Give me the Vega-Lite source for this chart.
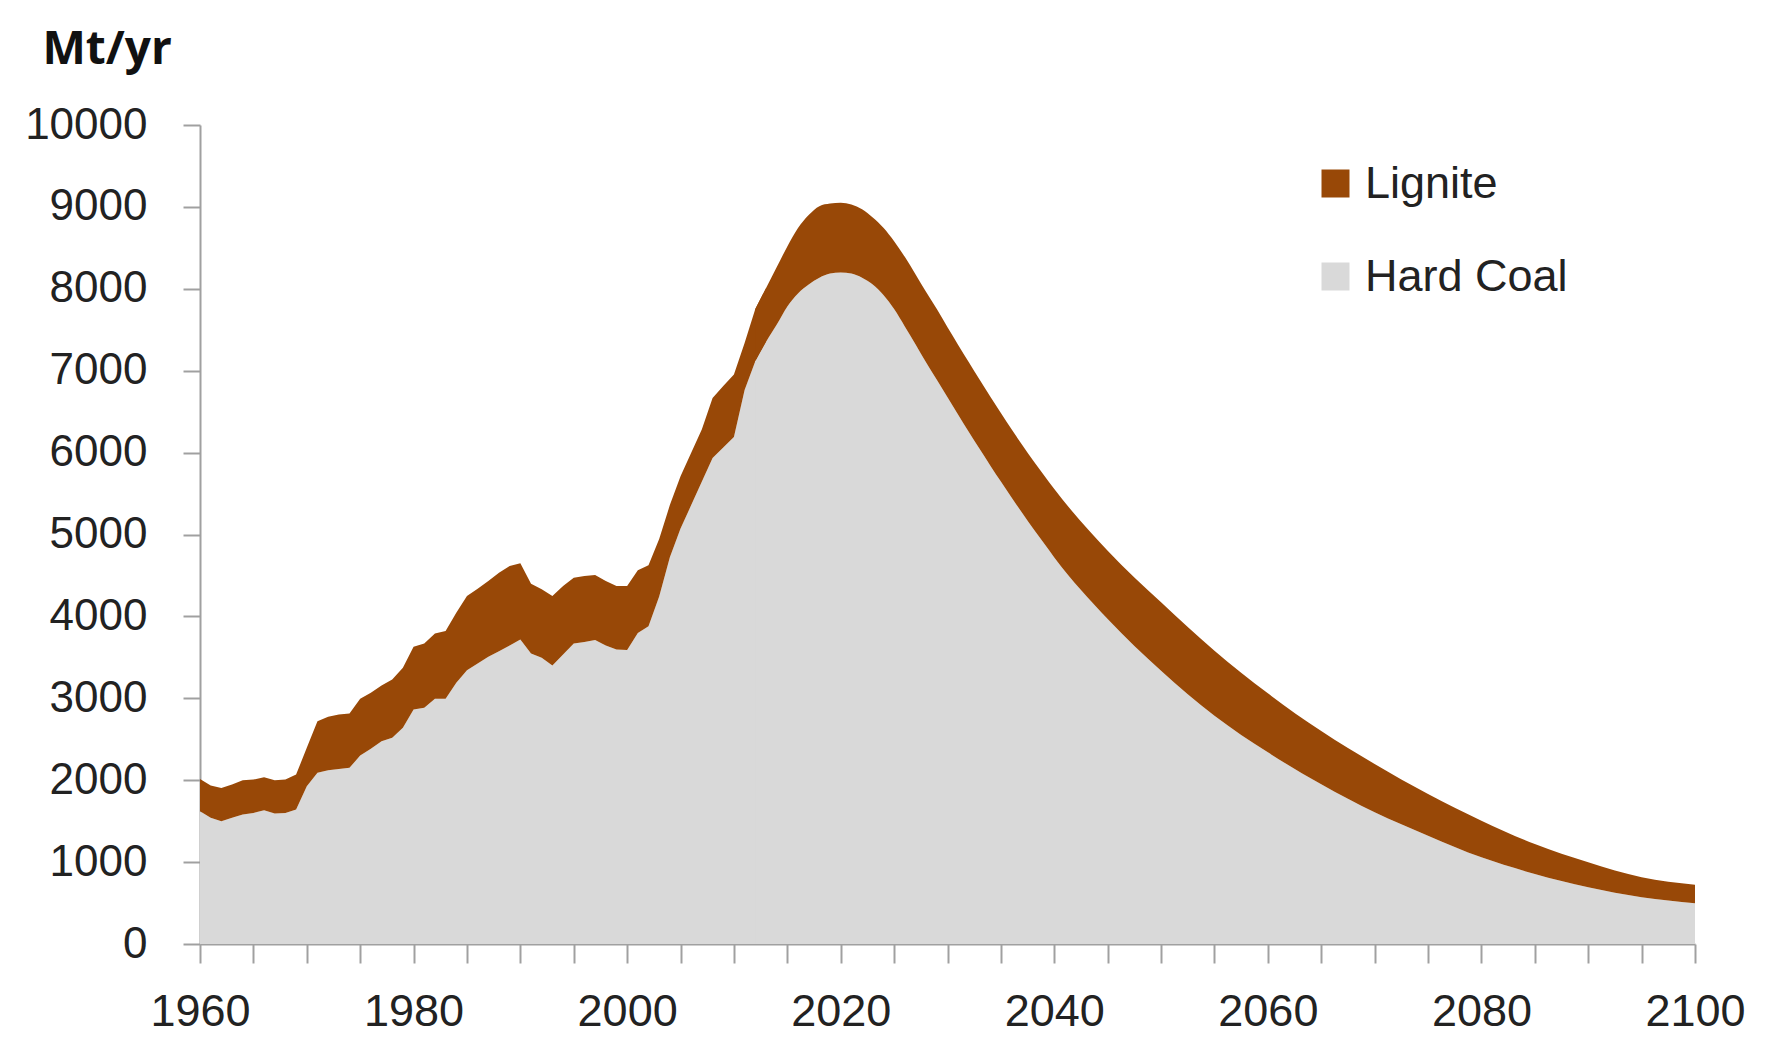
{
  "$schema": "https://vega.github.io/schema/vega-lite/v6.json",
  "width": 1495,
  "height": 819,
  "autosize": {"type": "none"},
  "padding": {"left": 200, "top": 125, "right": 74, "bottom": 101},
  "background": "white",
  "config": {
    "font": "Liberation Sans",
    "view": {"stroke": null}
  },
  "data": {
    "values": [
      {"year": 1960, "Hard Coal": 1621, "Lignite": 395},
      {"year": 1961, "Hard Coal": 1540, "Lignite": 395},
      {"year": 1962, "Hard Coal": 1499, "Lignite": 407},
      {"year": 1963, "Hard Coal": 1540, "Lignite": 407},
      {"year": 1964, "Hard Coal": 1580, "Lignite": 420},
      {"year": 1965, "Hard Coal": 1601, "Lignite": 407},
      {"year": 1966, "Hard Coal": 1633, "Lignite": 404},
      {"year": 1967, "Hard Coal": 1593, "Lignite": 407},
      {"year": 1968, "Hard Coal": 1601, "Lignite": 407},
      {"year": 1969, "Hard Coal": 1642, "Lignite": 427},
      {"year": 1970, "Hard Coal": 1927, "Lignite": 468},
      {"year": 1971, "Hard Coal": 2090, "Lignite": 631},
      {"year": 1972, "Hard Coal": 2122, "Lignite": 652},
      {"year": 1973, "Hard Coal": 2138, "Lignite": 664},
      {"year": 1974, "Hard Coal": 2151, "Lignite": 664},
      {"year": 1975, "Hard Coal": 2301, "Lignite": 693},
      {"year": 1976, "Hard Coal": 2383, "Lignite": 684},
      {"year": 1977, "Hard Coal": 2477, "Lignite": 680},
      {"year": 1978, "Hard Coal": 2517, "Lignite": 713},
      {"year": 1979, "Hard Coal": 2640, "Lignite": 733},
      {"year": 1980, "Hard Coal": 2864, "Lignite": 765},
      {"year": 1981, "Hard Coal": 2884, "Lignite": 786},
      {"year": 1982, "Hard Coal": 2994, "Lignite": 798},
      {"year": 1983, "Hard Coal": 2994, "Lignite": 827},
      {"year": 1984, "Hard Coal": 3189, "Lignite": 856},
      {"year": 1985, "Hard Coal": 3344, "Lignite": 904},
      {"year": 1986, "Hard Coal": 3426, "Lignite": 912},
      {"year": 1987, "Hard Coal": 3507, "Lignite": 925},
      {"year": 1988, "Hard Coal": 3576, "Lignite": 958},
      {"year": 1989, "Hard Coal": 3646, "Lignite": 969},
      {"year": 1990, "Hard Coal": 3719, "Lignite": 929},
      {"year": 1991, "Hard Coal": 3548, "Lignite": 851},
      {"year": 1992, "Hard Coal": 3495, "Lignite": 835},
      {"year": 1993, "Hard Coal": 3401, "Lignite": 847},
      {"year": 1994, "Hard Coal": 3536, "Lignite": 835},
      {"year": 1995, "Hard Coal": 3670, "Lignite": 803},
      {"year": 1996, "Hard Coal": 3686, "Lignite": 807},
      {"year": 1997, "Hard Coal": 3711, "Lignite": 794},
      {"year": 1998, "Hard Coal": 3646, "Lignite": 786},
      {"year": 1999, "Hard Coal": 3597, "Lignite": 774},
      {"year": 2000, "Hard Coal": 3590, "Lignite": 781},
      {"year": 2001, "Hard Coal": 3796, "Lignite": 766},
      {"year": 2002, "Hard Coal": 3879, "Lignite": 747},
      {"year": 2003, "Hard Coal": 4243, "Lignite": 701},
      {"year": 2004, "Hard Coal": 4721, "Lignite": 638},
      {"year": 2005, "Hard Coal": 5072, "Lignite": 638},
      {"year": 2006, "Hard Coal": 5359, "Lignite": 638},
      {"year": 2007, "Hard Coal": 5646, "Lignite": 638},
      {"year": 2008, "Hard Coal": 5933, "Lignite": 734},
      {"year": 2009, "Hard Coal": 6061, "Lignite": 753},
      {"year": 2010, "Hard Coal": 6189, "Lignite": 765},
      {"year": 2011, "Hard Coal": 6763, "Lignite": 574},
      {"year": 2012, "Hard Coal": 7114, "Lignite": 638},
      {"year": 2013, "Hard Coal": 7350, "Lignite": 657},
      {"year": 2014, "Hard Coal": 7560, "Lignite": 702},
      {"year": 2015, "Hard Coal": 7784, "Lignite": 733},
      {"year": 2016, "Hard Coal": 7943, "Lignite": 798},
      {"year": 2017, "Hard Coal": 8052, "Lignite": 848},
      {"year": 2018, "Hard Coal": 8135, "Lignite": 874},
      {"year": 2019, "Hard Coal": 8186, "Lignite": 854},
      {"year": 2020, "Hard Coal": 8198, "Lignite": 852},
      {"year": 2021, "Hard Coal": 8186, "Lignite": 844},
      {"year": 2022, "Hard Coal": 8135, "Lignite": 835},
      {"year": 2023, "Hard Coal": 8052, "Lignite": 818},
      {"year": 2024, "Hard Coal": 7924, "Lignite": 821},
      {"year": 2025, "Hard Coal": 7752, "Lignite": 829},
      {"year": 2026, "Hard Coal": 7541, "Lignite": 849},
      {"year": 2027, "Hard Coal": 7324, "Lignite": 855},
      {"year": 2028, "Hard Coal": 7100, "Lignite": 862},
      {"year": 2029, "Hard Coal": 6890, "Lignite": 862},
      {"year": 2030, "Hard Coal": 6675, "Lignite": 855},
      {"year": 2031, "Hard Coal": 6462, "Lignite": 853},
      {"year": 2032, "Hard Coal": 6252, "Lignite": 850},
      {"year": 2033, "Hard Coal": 6046, "Lignite": 846},
      {"year": 2034, "Hard Coal": 5844, "Lignite": 841},
      {"year": 2035, "Hard Coal": 5646, "Lignite": 836},
      {"year": 2036, "Hard Coal": 5452, "Lignite": 832},
      {"year": 2037, "Hard Coal": 5262, "Lignite": 830},
      {"year": 2038, "Hard Coal": 5076, "Lignite": 831},
      {"year": 2039, "Hard Coal": 4898, "Lignite": 832},
      {"year": 2040, "Hard Coal": 4720, "Lignite": 835},
      {"year": 2045, "Hard Coal": 3968, "Lignite": 835},
      {"year": 2050, "Hard Coal": 3337, "Lignite": 835},
      {"year": 2055, "Hard Coal": 2788, "Lignite": 794},
      {"year": 2060, "Hard Coal": 2340, "Lignite": 721},
      {"year": 2065, "Hard Coal": 1950, "Lignite": 650},
      {"year": 2070, "Hard Coal": 1608, "Lignite": 590},
      {"year": 2075, "Hard Coal": 1323, "Lignite": 509},
      {"year": 2080, "Hard Coal": 1058, "Lignite": 448},
      {"year": 2085, "Hard Coal": 855, "Lignite": 366},
      {"year": 2090, "Hard Coal": 692, "Lignite": 305},
      {"year": 2095, "Hard Coal": 570, "Lignite": 244},
      {"year": 2100, "Hard Coal": 497, "Lignite": 227}
    ]
  },
  "transform": [{"fold": ["Hard Coal", "Lignite"], "as": ["type", "value"]}],
  "encoding": {
    "x": {
      "field": "year",
      "type": "quantitative",
      "scale": {"domain": [1960, 2100], "nice": false, "zero": false},
      "axis": {
        "title": null,
        "values": [1960,1965,1970,1975,1980,1985,1990,1995,2000,2005,2010,2015,2020,2025,2030,2035,2040,2045,2050,2055,2060,2065,2070,2075,2080,2085,2090,2095,2100],
        "format": "d",
        "labelExpr": "datum.value % 20 == 0 ? datum.label : ''",
        "grid": false,
        "domainColor": "#a0a0a0",
        "domainWidth": 2,
        "tickColor": "#a0a0a0",
        "tickWidth": 2,
        "tickSize": 19,
        "labelPadding": 26,
        "labelFontSize": 45,
        "labelColor": "#222222",
        "labelFont": "Liberation Sans",
        "labelOverlap": false,
        "labelFlush": false
      }
    },
    "y": {
      "field": "value",
      "type": "quantitative",
      "stack": "zero",
      "scale": {"domain": [0, 10000], "nice": false},
      "axis": {
        "values": [0,1000,2000,3000,4000,5000,6000,7000,8000,9000,10000],
        "format": "d",
        "grid": false,
        "domainColor": "#a0a0a0",
        "domainWidth": 2,
        "tickColor": "#a0a0a0",
        "tickWidth": 2,
        "tickSize": 17,
        "labelPadding": 36,
        "labelFontSize": 44,
        "labelColor": "#222222",
        "labelFont": "Liberation Sans",
        "labelOverlap": false,
        "labelFlush": false,
        "title": "Mt/yr",
        "titleAngle": 0,
        "titleAlign": "left",
        "titleBaseline": "alphabetic",
        "titleX": -158,
        "titleY": -62,
        "titleFontSize": 46,
        "titleFontWeight": "bold",
        "titleColor": "#111111",
        "titleFont": "Open Sans"
      }
    },
    "color": {
      "field": "type",
      "type": "nominal",
      "scale": {"domain": ["Lignite", "Hard Coal"], "range": ["#984807", "#d9d9d9"]},
      "legend": {
        "title": null,
        "orient": "none",
        "legendX": 1113,
        "legendY": 36,
        "symbolType": "square",
        "symbolSize": 784,
        "symbolStrokeWidth": 0,
        "symbolOpacity": 1,
        "labelFontSize": 45,
        "labelColor": "#222222",
        "labelFont": "Liberation Sans",
        "labelOffset": 7,
        "labelLimit": 500,
        "rowPadding": 47,
        "padding": 0
      }
    },
    "order": {"field": "type", "sort": "ascending"}
  },
  "layer": [
    {
      "transform": [{"filter": "datum.year <= 2013"}],
      "mark": {"type": "area", "interpolate": "linear"}
    },
    {
      "transform": [{"filter": "datum.year >= 2012"}],
      "mark": {"type": "area", "interpolate": "monotone"}
    }
  ]
}
